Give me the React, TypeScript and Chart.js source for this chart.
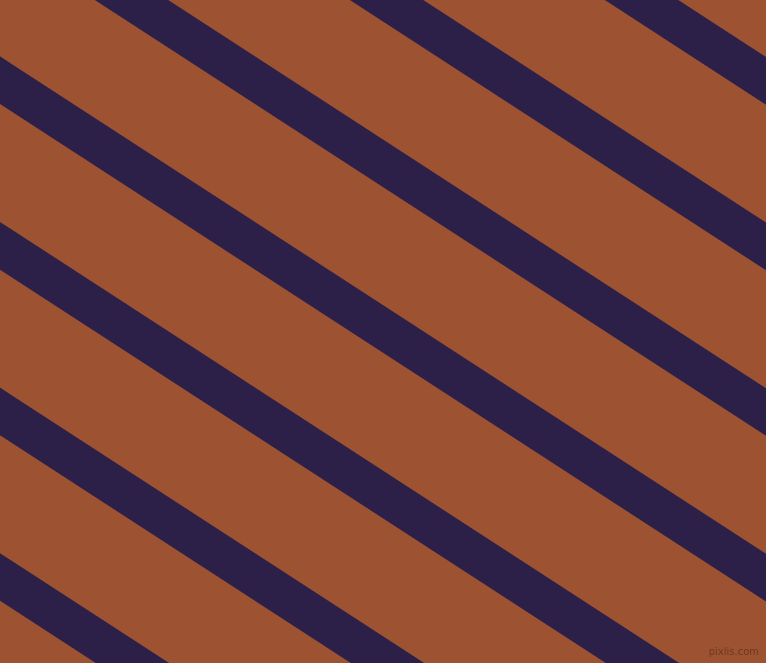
import { useEffect, useRef } from 'react';
import { Chart, registerables } from 'chart.js';

Chart.register(...registerables);

// stripe centre lines, read where they cross the left (x = 0) and right (x = 766) edges
const stripeLeftY = [-416.6, -251, -85.4, 80.2, 245.8, 411.4, 577];
const stripeRightY = [80.8, 246.4, 412, 577.6, 743.2, 908.8, 1074.4];
const edgeX = [0, 766];

const background = '#9d5332';
const stripeColor = '#2c2049';
const stripeWidth = 40;
const watermark = 'pixlis.com';

export default function App() {
  const chartRef = useRef<HTMLCanvasElement | null>(null);

  useEffect(() => {
    if (chartRef.current === null) return () => {};
    document.body.style.margin = '0';

    const watermarkPlugin = {
      id: 'watermark',
      afterDraw(chart: Chart) {
        const { ctx } = chart;
        ctx.save();
        ctx.font = '10px "DejaVu Sans"';
        ctx.fillStyle = 'rgba(95, 45, 28, 0.75)';
        ctx.textAlign = 'right';
        ctx.textBaseline = 'bottom';
        ctx.fillText(watermark, 759, 657);
        ctx.restore();
      },
    };

    const aChart = new Chart(chartRef.current, {
      type: 'line',
      data: {
        datasets: stripeLeftY.map((y0, i) => ({
          data: [
            { x: edgeX[0], y: y0 },
            { x: edgeX[1], y: stripeRightY[i] },
          ],
          borderColor: stripeColor,
          borderWidth: stripeWidth,
          borderCapStyle: 'square' as const,
          pointRadius: 0,
          tension: 0,
          fill: false,
          clip: false as const,
        })),
      },
      options: {
        animation: false,
        responsive: false,
        devicePixelRatio: 1,
        layout: { padding: 0 },
        events: [],
        scales: {
          x: { type: 'linear', min: 0, max: 766, display: false },
          y: { type: 'linear', min: 0, max: 663, reverse: true, display: false },
        },
        plugins: {
          legend: { display: false },
          tooltip: { enabled: false },
        },
      },
      plugins: [watermarkPlugin],
    });
    return () => {
      aChart.destroy();
    };
  }, []);

  return (
    <div style={{ position: 'fixed', left: 0, top: 0, width: 766, height: 663 }}>
      <canvas
        ref={chartRef}
        width={766}
        height={663}
        style={{ display: 'block', width: 766, height: 663, background }}
      />
    </div>
  );
}
